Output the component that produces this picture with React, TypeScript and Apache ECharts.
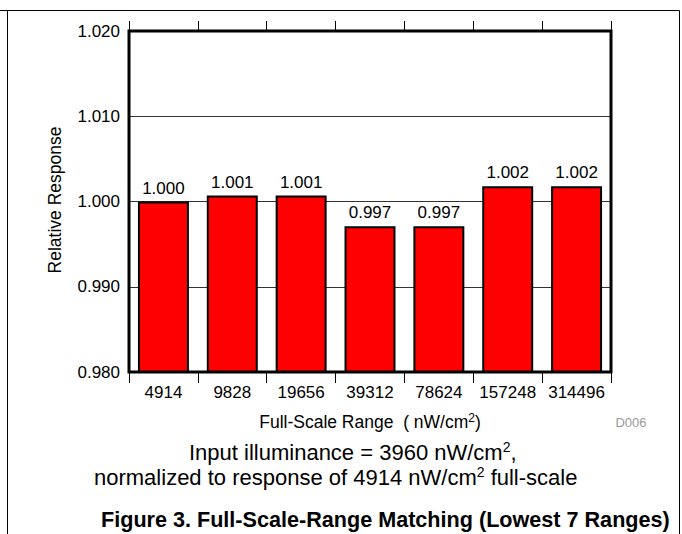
import React, { useEffect, useRef } from 'react';
import * as echarts from 'echarts';

const categories = ['4914', '9828', '19656', '39312', '78624', '157248', '314496'];
const relativeResponse = [1.0, 1.0007, 1.0007, 0.9971, 0.9971, 1.0018, 1.0018];
const yMin = 0.98;
const yMax = 1.02;
const yStep = 0.01;

const FONT = "'Liberation Sans', Arial, Helvetica, sans-serif";

export default function App() {
  const ref = useRef<HTMLDivElement>(null);
  useEffect(() => {
    const chart = echarts.init(ref.current!, null, { renderer: 'svg' });
    const gl = 129, gt = 31, gw = 482, gh = 341;
    const richBig = {
      n: { fontSize: 22, fontFamily: FONT, color: '#000', lineHeight: 24 },
      s: { fontSize: 14, fontFamily: FONT, color: '#000', lineHeight: 10, verticalAlign: 'top' },
    };
    const richMid = {
      n: { fontSize: 17.5, fontFamily: FONT, color: '#000', lineHeight: 20 },
      s: { fontSize: 12, fontFamily: FONT, color: '#000', lineHeight: 8, verticalAlign: 'top' },
    };
    chart.setOption({
      animation: false,
      backgroundColor: '#fff',
      textStyle: { fontFamily: FONT },
      grid: { left: gl, top: gt, width: gw, height: gh, containLabel: false },
      xAxis: [
        {
          type: 'category',
          data: categories,
          position: 'bottom',
          axisLine: { show: false },
          axisTick: { show: true, length: 11, lineStyle: { color: '#000', width: 1 } },
          axisLabel: { fontSize: 17, color: '#000', margin: 12, fontFamily: FONT, interval: 0 },
        },
        {
          type: 'category',
          data: categories,
          position: 'top',
          axisLine: { show: false },
          axisTick: { show: true, length: 10, lineStyle: { color: '#000', width: 1 } },
          axisLabel: { show: false },
        },
      ],
      yAxis: {
        type: 'value',
        min: yMin,
        max: yMax,
        interval: yStep,
        axisLine: { show: false },
        axisTick: { show: false },
        axisLabel: {
          fontSize: 17,
          color: '#000',
          margin: 9,
          fontFamily: FONT,
          formatter: (v: number) => v.toFixed(3),
        },
        splitLine: { show: true, lineStyle: { color: '#333', width: 1 } },
      },
      series: [
        {
          type: 'bar',
          data: relativeResponse,
          xAxisIndex: 0,
          barWidth: '74%',
          itemStyle: { color: '#ff0000', borderColor: '#000', borderWidth: 2 },
          label: {
            show: true,
            position: 'top',
            distance: 5,
            fontSize: 17,
            color: '#000',
            fontFamily: FONT,
            formatter: (p: any) => Number(p.value).toFixed(3),
          },
        },
      ],
      graphic: [
        {
          type: 'polyline',
          z: 100,
          shape: { points: [[0, 10.5], [679.5, 10.5], [679.5, 534]] },
          style: { fill: 'none', stroke: '#000', lineWidth: 1 },
          silent: true,
        },
        {
          type: 'line',
          z: 100,
          shape: { x1: 7.5, y1: 10.5, x2: 7.5, y2: 534 },
          style: { stroke: '#000', lineWidth: 1 },
          silent: true,
        },
        {
          type: 'rect',
          z: 100,
          shape: { x: gl, y: gt, width: gw, height: gh },
          style: { fill: 'none', stroke: '#000', lineWidth: 3 },
          silent: true,
        },
        {
          type: 'text',
          z: 100,
          x: 55,
          y: 200,
          rotation: Math.PI / 2,
          style: {
            text: 'Relative Response',
            fontSize: 17.5,
            fontFamily: FONT,
            fill: '#000',
            align: 'center',
            verticalAlign: 'middle',
          },
        },
        {
          type: 'text',
          z: 100,
          x: 370,
          y: 422,
          style: {
            text: '{n|Full-Scale Range  ( nW/cm}{s|2}{n|)}',
            rich: richMid,
            align: 'center',
            verticalAlign: 'middle',
          },
        },
        {
          type: 'text',
          z: 100,
          x: 631,
          y: 422,
          style: {
            text: 'D006',
            fontSize: 13,
            fontFamily: FONT,
            fill: '#999',
            align: 'center',
            verticalAlign: 'middle',
          },
        },
        {
          type: 'text',
          z: 100,
          x: 189,
          y: 452,
          style: {
            text: '{n|Input illuminance = 3960 nW/cm}{s|2}{n|,}',
            rich: richBig,
            align: 'left',
            verticalAlign: 'middle',
          },
        },
        {
          type: 'text',
          z: 100,
          x: 94,
          y: 477,
          style: {
            text: '{n|normalized to response of 4914 nW/cm}{s|2}{n| full-scale}',
            rich: richBig,
            align: 'left',
            verticalAlign: 'middle',
          },
        },
        {
          type: 'text',
          z: 100,
          x: 101,
          y: 519,
          style: {
            text: 'Figure 3. Full-Scale-Range Matching (Lowest 7 Ranges)',
            fontSize: 21.6,
            fontWeight: 'bold',
            fontFamily: FONT,
            fill: '#000',
            align: 'left',
            verticalAlign: 'middle',
          },
        },
      ],
    });
    return () => chart.dispose();
  }, []);
  return (
    <div
      ref={ref}
      style={{ position: 'absolute', left: 0, top: 0, width: 682, height: 534 }}
    />
  );
}
